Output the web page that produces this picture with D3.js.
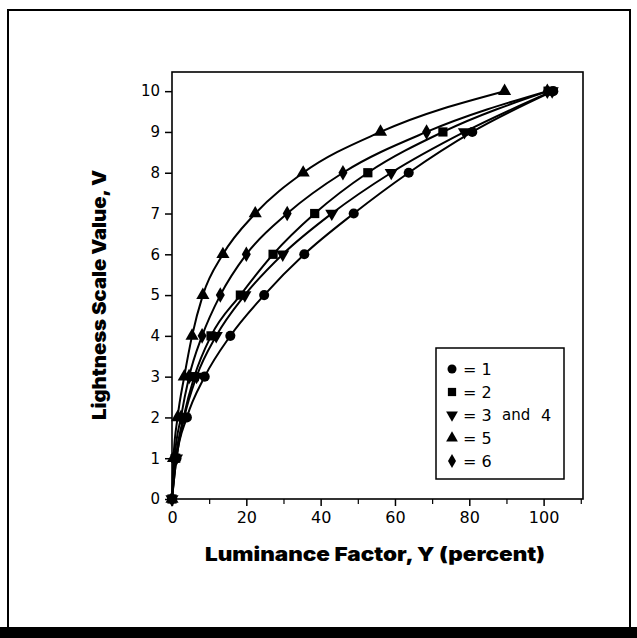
<!DOCTYPE html>
<html><head><meta charset="utf-8">
<script src="https://cdn.jsdelivr.net/npm/d3@7"></script>
<style>
html,body{margin:0;padding:0;background:#fff;}
svg{display:block;}
</style></head>
<body>
<svg id="chart" width="637" height="638"></svg>
<script>
// ---- data ----
const lightness = [0,1,2,3,4,5,6,7,8,9,10];
const series1  = [0, 1.2, 4.0, 8.8, 15.7, 24.8, 35.6, 48.9, 63.7, 80.8, 102.6]; // circle
const series2  = [0, 1.0, 3.1, 6.0, 10.5, 18.4, 27.2, 38.4, 52.7, 72.9, 101.2]; // square
const series34 = [0, 1.2, 3.3, 6.6, 11.9, 19.6, 29.8, 43.0, 59.0, 78.7, 102.3]; // triangle down
const series5  = [0, 0.4, 1.5, 3.3, 5.4, 8.3, 13.7, 22.4, 35.3, 56.1, 89.5];  // triangle up
const series6  = [0, 0.7, 2.4, 4.6, 8.1, 13.0, 20.0, 31.0, 46.0, 68.5, 101.0]; // diamond
const xTicks = [0,20,40,60,80,100];
const xMinor = [10,30,50,70,90,110];
const yTicks = [0,1,2,3,4,5,6,7,8,9,10];
const legendLabels = ["= 1","= 2","= 3","= 5","= 6"];

const seriesList = [
  {name:"1", x:series1, sym:d3.symbolCircle, rot:0, size:80},
  {name:"2", x:series2, sym:d3.symbolSquare, rot:0, size:85},
  {name:"3 and 4", x:series34, sym:d3.symbolTriangle, rot:180, size:75},
  {name:"5", x:series5, sym:d3.symbolTriangle, rot:0, size:75},
  {name:"6", x:series6, sym:d3.symbolDiamond, rot:0, size:70}
];

const svg = d3.select("#chart");
const x = d3.scaleLinear().domain([0,110.6]).range([172,583]);
const y = d3.scaleLinear().domain([0,10.47]).range([499,72]);

// outer border
svg.append("rect").attr("x",8).attr("y",10).attr("width",622).attr("height",620)
  .attr("fill","none").attr("stroke","#000").attr("stroke-width",2);
svg.append("rect").attr("x",0).attr("y",627).attr("width",637).attr("height",11).attr("fill","#000");

// plot frame
svg.append("rect").attr("x",x(0)).attr("y",y(10.47)).attr("width",x(110.6)-x(0)).attr("height",y(0)-y(10.47))
  .attr("fill","none").attr("stroke","#000").attr("stroke-width",1.6);

const tickFont = "'DejaVu Sans', sans-serif";
// y axis
const ya = svg.append("g").attr("transform",`translate(${x(0)},0)`)
  .call(d3.axisLeft(y).tickValues(yTicks).tickSize(7).tickPadding(5).tickFormat(d3.format("d")));
ya.select(".domain").remove();
ya.selectAll("line").attr("stroke","#000").attr("stroke-width",1.5);
ya.selectAll("text").attr("font-family",tickFont).attr("font-size",15).attr("fill","#000");

// x axis
const xa = svg.append("g").attr("transform",`translate(0,${y(0)})`)
  .call(d3.axisBottom(x).tickValues(xTicks).tickSize(7).tickPadding(6).tickFormat(d3.format("d")));
xa.select(".domain").remove();
xa.selectAll("line").attr("stroke","#000").attr("stroke-width",1.5);
xa.selectAll("text").attr("font-family",tickFont).attr("font-size",16).attr("fill","#000");
svg.append("g").attr("transform",`translate(0,${y(0)})`)
  .call(d3.axisBottom(x).tickValues(xMinor).tickSize(5).tickFormat(""))
  .call(g=>g.select(".domain").remove())
  .selectAll("line").attr("stroke","#000").attr("stroke-width",1.2);

// axis titles
const titleFont = "Inter, Roboto, 'Liberation Sans', sans-serif";
svg.append("text").attr("x",375).attr("y",561).attr("text-anchor","middle")
  .attr("font-family",titleFont).attr("font-weight",900).attr("font-size",19)
  .attr("textLength",340).attr("lengthAdjust","spacingAndGlyphs")
  .text("Luminance Factor, Y (percent)");
svg.append("text").attr("transform",`translate(106,295) rotate(-90)`).attr("text-anchor","middle")
  .attr("font-family",titleFont).attr("font-weight",900).attr("font-size",19)
  .attr("textLength",250).attr("lengthAdjust","spacingAndGlyphs")
  .text("Lightness Scale Value, V");

// lines and markers
const line = d3.line().curve(d3.curveMonotoneX).x(d=>x(d[0])).y(d=>y(d[1]));
seriesList.forEach(s=>{
  const pts = s.x.map((v,i)=>[v, lightness[i]]);
  svg.append("path").datum(pts).attr("d",line).attr("fill","none").attr("stroke","#000").attr("stroke-width",2);
  svg.append("g").selectAll("path").data(pts).join("path")
    .attr("d",d3.symbol().type(s.sym).size(s.size))
    .attr("transform",d=>`translate(${x(d[0])},${y(d[1])}) rotate(${s.rot})`)
    .attr("fill","#000");
});

// legend
const lg = svg.append("g");
lg.append("rect").attr("x",436).attr("y",348).attr("width",128).attr("height",131)
  .attr("fill","#fff").attr("stroke","#000").attr("stroke-width",1.5);
const legFont = "'DejaVu Sans', sans-serif";
seriesList.forEach((s,i)=>{
  const cy = 369 + i*23;
  lg.append("path").attr("d",d3.symbol().type(s.sym).size(s.size*0.8)())
    .attr("transform",`translate(452,${cy}) rotate(${s.rot})`).attr("fill","#000");
  lg.append("text").attr("x",463).attr("y",cy+6).attr("font-family",legFont).attr("font-size",16).text(legendLabels[i]);
});
lg.append("text").attr("x",502).attr("y",369+2*23+5).attr("font-family",legFont).attr("font-size",15).text("and");
lg.append("text").attr("x",541).attr("y",369+2*23+6).attr("font-family",legFont).attr("font-size",16).text("4");
</script>
</body></html>
